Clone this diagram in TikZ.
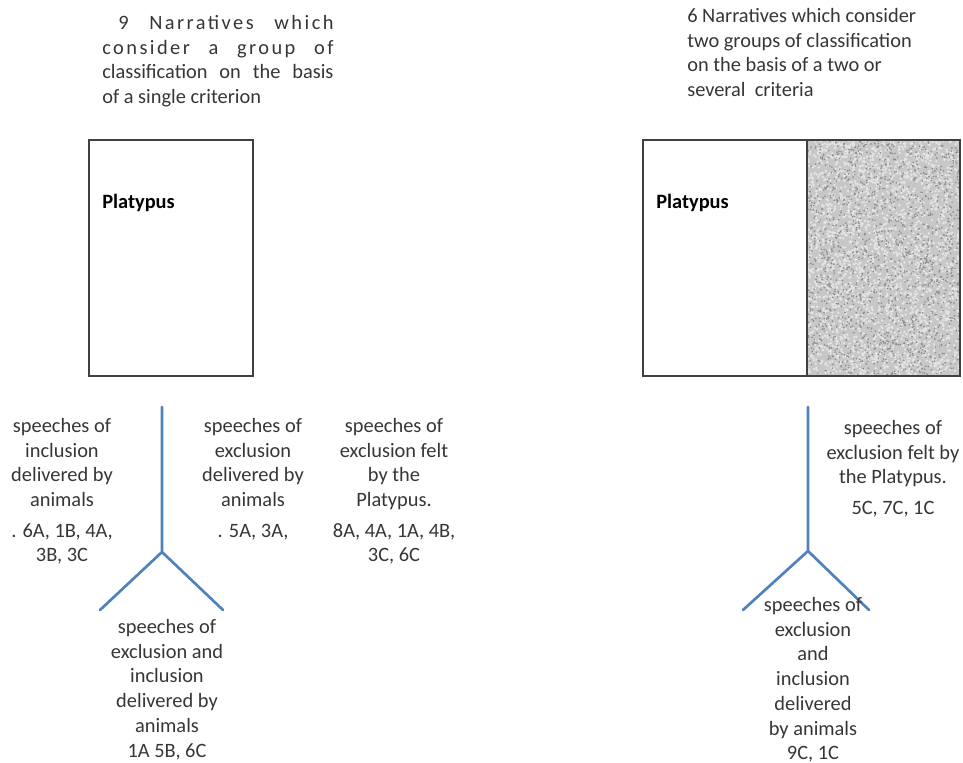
\documentclass[tikz,border=0pt]{standalone}
\usepackage{fontspec}
\setmainfont{Carlito}
\usepackage{xcolor}
\usepackage{tikz}
\usetikzlibrary{positioning,calc}
\definecolor{txtgray}{HTML}{363636}
\definecolor{boxgray}{HTML}{404040}
\definecolor{branchblue}{HTML}{4F81BD}
\tikzset{
  lbl/.style={font=\fontsize{14.5}{17.6}\selectfont, text=txtgray, align=center,
              inner sep=0pt, anchor=north},
  ttl/.style={font=\fontsize{14.5}{17.5}\selectfont, text=txtgray, align=left,
              inner sep=0pt, anchor=north west},
  tag/.style={font=\fontsize{14.5}{17}\selectfont\bfseries, text=black,
              inner sep=0pt, anchor=west},
  panel/.style={draw=boxgray, line width=1.1pt},
  branch/.style={draw=branchblue, line width=1.9pt, line cap=round, line join=round},
}
\newcommand{\spread}[2]{\makebox[#1][s]{#2}}

\begin{document}
\begin{tikzpicture}[x=0.025cm, y=-0.025cm]
  \useasboundingbox (0,0) rectangle (963,763);
  % titles
  \node[ttl] (ttlone) at (102,15) {%
    \hspace*{0.4cm}{\addfontfeature{LetterSpace=12}\spread{5.38cm}{9 Narratives which}}\\
    {\addfontfeature{LetterSpace=12}\spread{5.78cm}{consider a group of}}\\
    \spread{5.78cm}{classification on the basis}\\
    of a single criterion};
  \node[ttl] (ttltwo) at (687,8) {6 Narratives which consider\\two groups of classification\\
    on the basis of a two or\\several\ \ criteria};
  % left box
  \draw[panel] (89,140) rectangle (253,376);
  \node[tag] (pone) at (102,203) {Platypus};
  % right box, speckled half
  \begin{scope}
    \clip (807,140) rectangle (960,376);
    \fill[black!22] (807,140) rectangle (960,376);
    \pgfmathsetseed{7}
    \foreach \i in {1,...,2600} {
      \pgfmathsetmacro{\px}{807+153*rnd}
      \pgfmathsetmacro{\py}{140+236*rnd}
      \fill[white!90!black] (\px,\py) circle (0.95pt);
    }
    \foreach \i in {1,...,1600} {
      \pgfmathsetmacro{\px}{807+153*rnd}
      \pgfmathsetmacro{\py}{140+236*rnd}
      \fill[black!45] (\px,\py) circle (0.65pt);
    }
  \end{scope}
  \draw[panel] (643,140) rectangle (960,376);
  \draw[panel] (807,140) -- (807,376);
  \node[tag] (ptwo) at (656,203) {Platypus};
  % left tree
  \coordinate (sone) at (162,407);
  \coordinate (jone) at (162,552);
  \coordinate (lone) at (100,610);
  \coordinate (rone) at (223,610);
  \draw[branch] (sone) -- (jone) (lone) -- (jone) -- (rone);
  \node[lbl] (incone) at (62,418) {speeches of\\inclusion\\delivered by\\animals\\[4pt]. 6A, 1B, 4A,\\3B, 3C};
  \node[lbl] (excone) at (253,418) {speeches of\\exclusion\\delivered by\\animals\\[4pt]. 5A, 3A,};
  \node[lbl] (feltone) at (394,418) {speeches of\\exclusion felt\\by the\\Platypus.\\[4pt]8A, 4A, 1A, 4B,\\3C, 6C};
  \node[lbl] (bothone) at (167,619) {speeches of\\exclusion and\\inclusion\\delivered by\\animals\\1A 5B, 6C};
  % right tree
  \coordinate (stwo) at (808,407);
  \coordinate (jtwo) at (808,551);
  \coordinate (ltwo) at (743,610);
  \coordinate (rtwo) at (869,610);
  \draw[branch] (stwo) -- (jtwo) (ltwo) -- (jtwo) -- (rtwo);
  \node[lbl] (felttwo) at (893,420) {speeches of\\exclusion felt by\\the Platypus.\\[4pt]5C, 7C, 1C};
  \node[lbl] (bothtwo) at (813,597) {speeches of\\exclusion\\and\\inclusion\\delivered\\by animals\\9C, 1C};
\end{tikzpicture}
\end{document}
